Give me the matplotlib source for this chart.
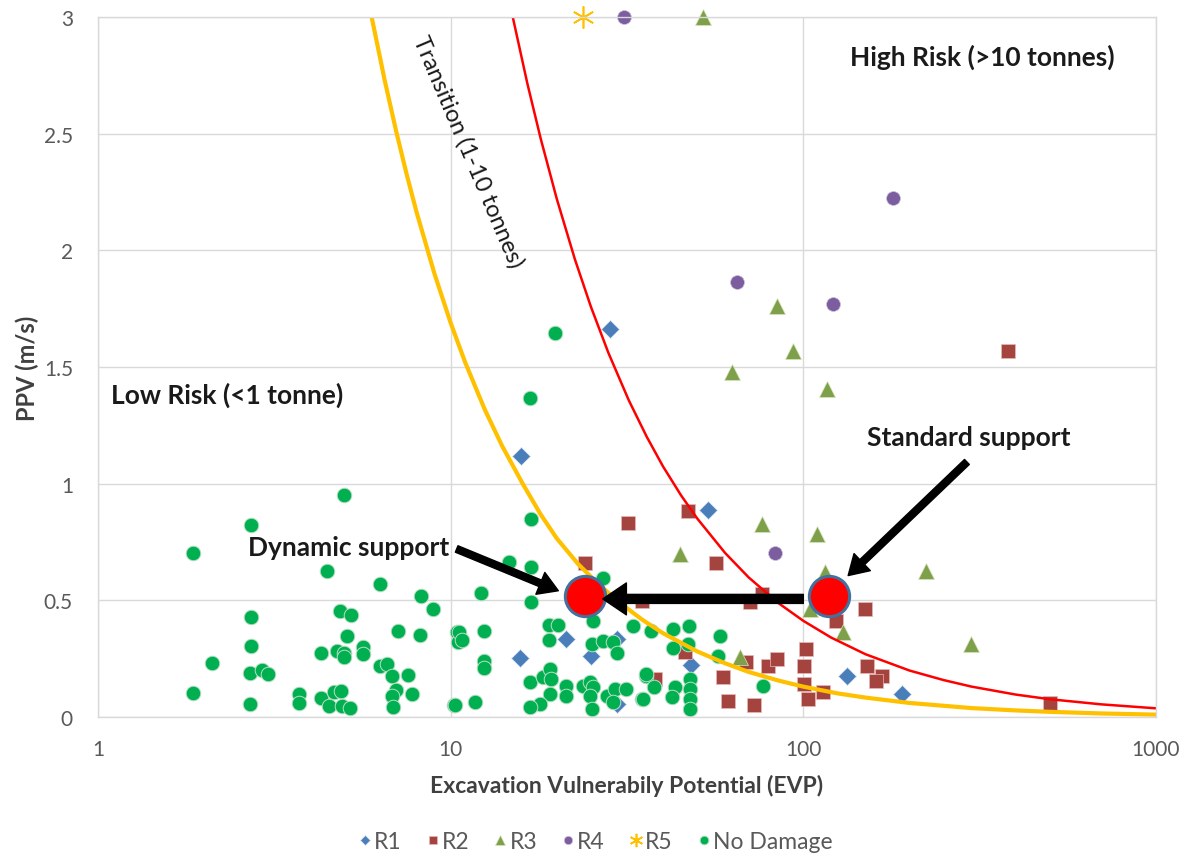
import matplotlib.pyplot as plt
import numpy as np

plt.rcParams['font.family'] = ['Lato', 'DejaVu Sans']

# %% data (EVP, PPV)
r1_evp = [28.3, 15.8, 53.7, 21.2, 15.7, 25.0, 47.9, 29.6, 29.6, 132.7, 191]
r1_ppv = [1.663, 1.119, 0.887, 0.334, 0.253, 0.26, 0.223, 0.334, 0.056, 0.174, 0.099]

r2_evp = [47.0, 31.9, 24.0, 56.4, 34.8, 70.6, 76.2, 46.2, 37.9, 69.0, 79.5, 84.3, 59.3,
          61.2, 72.6, 102, 100.6, 100.6, 103, 113.9, 124, 149.5, 152, 167, 161, 502, 380]
r2_ppv = [0.884, 0.830, 0.659, 0.659, 0.499, 0.492, 0.527, 0.277, 0.163, 0.234, 0.22, 0.249, 0.173,
          0.07, 0.051, 0.291, 0.22, 0.141, 0.077, 0.106, 0.413, 0.463, 0.22, 0.177, 0.156, 0.06, 1.569]

r3_evp = [51.9, 84.2, 93.5, 62.8, 116.7, 76.2, 109, 44.7, 115, 104.5, 66.1, 222.6, 129.8, 298]
r3_ppv = [3.0, 1.761, 1.569, 1.479, 1.406, 0.827, 0.784, 0.699, 0.62, 0.463, 0.256, 0.627, 0.366, 0.313]

r4_evp = [31.0, 179, 64.7, 121.3, 83.1]
r4_ppv = [3.0, 2.224, 1.864, 1.77, 0.703]

r5_evp = [23.7]
r5_ppv = [3.0]

nd_evp = [4.99, 2.72, 1.86, 4.45, 6.30, 8.24, 8.92, 2.72, 4.86, 5.22, 7.07, 8.18, 5.07, 10.4,
          2.72, 4.29, 4.75, 4.99, 4.99, 5.65, 5.65, 2.11, 2.70, 2.91, 3.03, 6.30, 6.59, 6.80,
          7.55, 1.86, 2.70, 3.72, 3.72, 4.29, 4.53, 4.68, 4.89, 4.91, 5.18, 7.0, 6.80, 7.75,
          6.85, 10.2, 10.5,
          19.7, 16.8, 16.9, 14.6, 16.9, 12.2, 16.9, 27.1, 25.3, 19.0, 20.2, 19.0, 32.8,
          25.1, 27.1, 28.9, 29.6, 10.55, 10.8, 12.45, 12.45, 12.4, 16.8, 18.3, 19.1, 19.3,
          19.1, 17.9, 16.8, 21.3, 21.3, 23.7, 24.8, 25.3, 24.8, 25.1, 27.7, 29.2, 28.9, 31.5,
          34.8, 35.9, 10.3, 11.7,
          37.1, 42.8, 47.4, 42.8, 47.0, 58.0, 57.3, 35.9, 37.6, 35.0, 43.3, 42.4,
          47.7, 47.7, 47.7, 47.7, 76.7]
nd_ppv = [0.953, 0.824, 0.701, 0.624, 0.57, 0.517, 0.463, 0.43, 0.456, 0.438, 0.37, 0.351, 0.349, 0.363,
          0.306, 0.274, 0.284, 0.274, 0.256, 0.299, 0.27, 0.231, 0.189, 0.203, 0.184, 0.217, 0.227, 0.177,
          0.181, 0.103, 0.056, 0.099, 0.06, 0.08, 0.046, 0.106, 0.113, 0.046, 0.037, 0.117, 0.089, 0.099,
          0.042, 0.051, 0.32,
          1.644, 1.366, 0.849, 0.666, 0.644, 0.53, 0.491, 0.594, 0.413, 0.394, 0.394, 0.331, 0.391,
          0.313, 0.327, 0.32, 0.273, 0.363, 0.331, 0.37, 0.241, 0.209, 0.149, 0.17, 0.206, 0.163,
          0.099, 0.056, 0.042, 0.134, 0.091, 0.134, 0.149, 0.127, 0.091, 0.034, 0.091, 0.12, 0.063, 0.12,
          0.077, 0.177, 0.051, 0.066,
          0.37, 0.377, 0.391, 0.294, 0.313, 0.346, 0.263, 0.184, 0.127, 0.077, 0.127, 0.084,
          0.163, 0.12, 0.077, 0.034, 0.134]

# risk boundary curves
low_evp = [5.97, 6.5, 7, 7.5, 8, 9, 10, 11, 12.5, 14, 16, 18, 20, 23, 26, 30, 35, 40, 50,
           60, 70, 85, 100, 125, 150, 200, 300, 400, 500, 700, 1000]
low_ppv = [3.0, 2.729, 2.513, 2.327, 2.165, 1.899, 1.689, 1.519, 1.317, 1.161, 1.0, 0.868,
           0.765, 0.655, 0.575, 0.492, 0.416, 0.359, 0.281, 0.23, 0.193, 0.156, 0.13, 0.101,
           0.083, 0.06, 0.038, 0.028, 0.022, 0.015, 0.01]
high_evp = [15, 16.5, 18, 20, 22.5, 25, 28, 32, 36, 40, 45, 50, 60, 70, 85, 100, 120, 150,
            200, 250, 300, 400, 500, 700, 1000]
high_ppv = [3.0, 2.715, 2.479, 2.22, 1.962, 1.757, 1.561, 1.357, 1.2, 1.074, 0.95, 0.851, 0.703,
            0.598, 0.488, 0.412, 0.34, 0.269, 0.199, 0.158, 0.13, 0.096, 0.076, 0.054, 0.037]

# support points
support_evp = [24.0, 118]
support_ppv = [0.52, 0.52]

# %%
fig = plt.figure(figsize=(11.82, 8.54), dpi=100)
ax = fig.add_axes([0.0829, 0.1593, 0.8951, 0.8196])

grid_c = '#D9D9D9'
txt_c = '#1a1a1a'
h1, = ax.plot(r1_evp, r1_ppv, 'D', ms=9, color='#4A7EBB', mec='#dbe5f1', mew=0.5, ls='none',
              clip_on=False)
h2, = ax.plot(r2_evp, r2_ppv, 's', ms=10, color='#A5443F', mec='#e6b9b8', mew=0.5, ls='none',
              clip_on=False)
h3, = ax.plot(r3_evp, r3_ppv, '^', ms=11, color='#7FA04A', mec='#d7e4bd', mew=0.5, ls='none',
              clip_on=False)
h4, = ax.plot(r4_evp, r4_ppv, 'o', ms=10, color='#7B5DA0', mec='#ccc1da', mew=0.5, ls='none',
              clip_on=False)
h5, = ax.plot(r5_evp, r5_ppv, marker=(6, 2, 0), ms=16, color='#FFC000', mew=1.2, ls='none',
              clip_on=False)
h6, = ax.plot(nd_evp, nd_ppv, 'o', ms=10.5, color='#00B050', mec='#b7dec5', mew=0.7, ls='none')

ax.plot(low_evp, low_ppv, color='#FFC000', lw=3.0, solid_capstyle='butt', solid_joinstyle='round')
ax.plot(high_evp, high_ppv, color='#FF0000', lw=1.8, solid_capstyle='butt', solid_joinstyle='round')

ax.plot(support_evp, support_ppv, 'o', ms=29, color='#FF0000', mec='#41719C', mew=2.2, ls='none',
        zorder=5)

# arrows
ax.annotate('', xy=(27.0, 0.506), xytext=(100, 0.506),
            arrowprops=dict(arrowstyle='simple,head_width=2.3,tail_width=0.65,head_length=1.7',
                            color='black', shrinkA=0, shrinkB=0), zorder=6)
ax.annotate('', xy=(20.2, 0.541), xytext=(10.4, 0.72),
            arrowprops=dict(arrowstyle='simple,head_width=1.7,tail_width=0.5,head_length=1.4',
                            color='black', shrinkA=0, shrinkB=0), zorder=6)
ax.annotate('', xy=(134, 0.606), xytext=(291, 1.093),
            arrowprops=dict(arrowstyle='simple,head_width=1.7,tail_width=0.5,head_length=1.4',
                            color='black', shrinkA=0, shrinkB=0), zorder=6)

ax.text(9.89, 0.729, 'Dynamic support', ha='right', va='center', fontsize=19,
        fontweight='bold', color=txt_c)
ax.text(295, 1.2, 'Standard support', ha='center', va='center', fontsize=19,
        fontweight='bold', color=txt_c)
ax.text(321, 2.833, 'High Risk (>10 tonnes)', ha='center', va='center', fontsize=19,
        fontweight='bold', color=txt_c)
ax.text(1.09, 1.384, 'Low Risk (<1 tonne)', ha='left', va='center', fontsize=19,
        fontweight='bold', color=txt_c)
ax.text(11.2, 2.426, 'Transition (1-10 tonnes)', ha='center', va='center', fontsize=17,
        rotation=-67, rotation_mode='anchor', color=txt_c)

ax.set_xscale('log')
ax.set_xlim(1, 1000)
ax.set_ylim(0, 3)
ax.set_xticks([1, 10, 100, 1000])
ax.set_xticklabels(['1', '10', '100', '1000'])
ax.set_yticks([0, 0.5, 1, 1.5, 2, 2.5, 3])
ax.set_yticklabels(['0', '0.5', '1', '1.5', '2', '2.5', '3'])
ax.minorticks_off()
ax.tick_params(length=0, labelsize=15, colors='#595959')
ax.tick_params(axis='x', pad=16)
ax.tick_params(axis='y', pad=18)
ax.grid(True, color=grid_c, lw=1)
ax.set_axisbelow(True)
for s in ax.spines.values():
    s.set_color(grid_c)
    s.set_linewidth(1)

ax.set_xlabel('Excavation Vulnerabily Potential (EVP)', fontsize=16.5, fontweight='bold',
              color='#404040')
ax.xaxis.set_label_coords(0.5, -0.082)
ax.set_ylabel('PPV (m/s)', fontsize=17, fontweight='bold', color='#404040')
ax.yaxis.set_label_coords(-0.056, 0.5)

fig.legend([h1, h2, h3, h4, h5, h6], ['R1', 'R2', 'R3', 'R4', 'R5', 'No Damage'],
           loc='center', bbox_to_anchor=(0.504, 0.013), ncol=6, frameon=False, fontsize=16.5,
           labelcolor='#595959', markerscale=0.6, handletextpad=0.15, columnspacing=1.1,
           handlelength=0.5, borderpad=0)

fig.savefig('out.png', dpi=100)
